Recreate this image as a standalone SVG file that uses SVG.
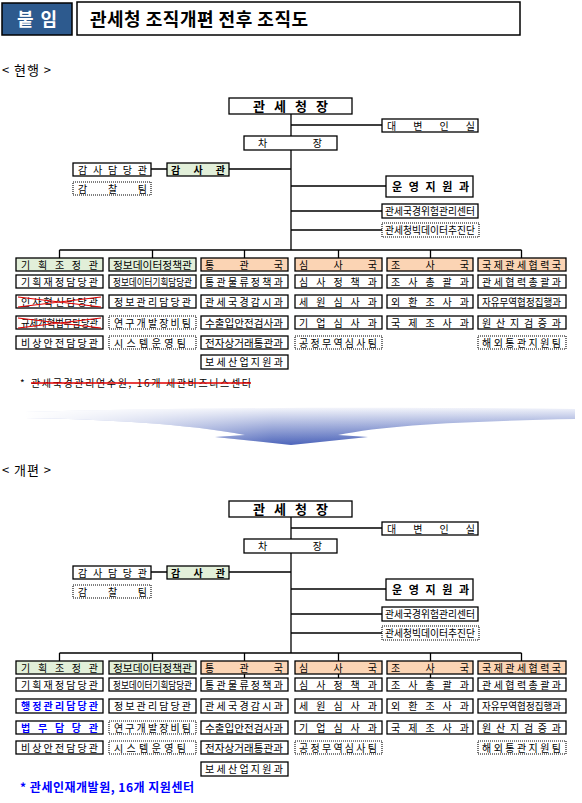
<svg xmlns="http://www.w3.org/2000/svg" width="582" height="803" viewBox="0 0 582 803">
<style>
.b{fill:#fff;stroke:#000;stroke-width:1.3}
.d{fill:#fff;stroke:#000;stroke-width:1.1;stroke-dasharray:1 1}
.g{fill:#e2efd9}
.o{fill:#fbd4b4}
text{font-family:"Noto Sans CJK KR","Noto Sans",sans-serif;fill:#000}
.t{font-size:10px}
.tb{font-size:10px;font-weight:bold}
.bl{fill:#0000ff;font-weight:bold}
.ln{stroke:#000;stroke-width:1.3;fill:none}
.x{stroke:#e00000;stroke-width:1.2;fill:none}
</style>
<defs>
<linearGradient id="av" x1="0" y1="0" x2="0" y2="1">
<stop offset="0" stop-color="#f2f4fb"/>
<stop offset="1" stop-color="#3b55b3"/>
</linearGradient>
<linearGradient id="ah" x1="0" y1="0" x2="1" y2="0">
<stop offset="0" stop-color="#fff" stop-opacity="1"/>
<stop offset="0.45" stop-color="#fff" stop-opacity="0.1"/>
<stop offset="1" stop-color="#fff" stop-opacity="0"/>
</linearGradient>
</defs>
<rect width="582" height="803" fill="#fff"/>

<g id="header">
<rect x="2" y="3" width="70" height="32" fill="#2d5a8e" stroke="#000" stroke-width="1.5"/>
<text x="17" y="26" font-size="18" font-weight="bold" textLength="40" lengthAdjust="spacing" style="fill:#fff">붙 임</text>
<rect x="77" y="2" width="443" height="33" fill="#fff" stroke="#000" stroke-width="1.5"/>
<text x="90" y="26" font-size="18" font-weight="bold" textLength="218" lengthAdjust="spacing">관세청 조직개편 전후 조직도</text>
</g>

<text id="label-before" x="2" y="75" font-size="13" textLength="49" lengthAdjust="spacing">&lt; 현행 &gt;</text>

<g id="connectors-before">
<path class="ln" d="M291 114V136M291 150V250M291 125H382M151 169H167M229 169H291M291 186H386M291 211H382M291 230H382M59.5 250H521.5M59.5 250V258M152.5 250V258M244.5 250V258M338.5 250V258M430.5 250V258M521.5 250V258"/>
</g>

<g id="n-commissioner-1"><rect class="b" x="229" y="98" width="123" height="16"/><text x="253" y="111" font-size="13" font-weight="bold" textLength="75" lengthAdjust="spacing">관세청장</text></g>
<g id="n-spokes-1"><rect class="b" x="382" y="119" width="96" height="13"/><text class="t" x="387" y="129.5" textLength="88" lengthAdjust="spacing">대변인실</text></g>
<g id="n-deputy-1"><rect class="b" x="244" y="136" width="93" height="14"/><text class="t" x="258" y="147" textLength="64" lengthAdjust="spacing">차장</text></g>
<g id="n-auditofficer-1"><rect class="b" x="73" y="163" width="78" height="13"/><text class="t" x="78" y="173.5" textLength="69" lengthAdjust="spacing">감사담당관</text></g>
<g id="n-audit-1"><rect class="b g" x="167" y="163" width="62" height="13"/><text class="tb" x="171" y="173.5" textLength="54" lengthAdjust="spacing">감사관</text></g>
<g id="n-inspect-1"><rect class="d" x="73" y="182" width="78" height="13"/><text class="t" x="78" y="192.5" textLength="69" lengthAdjust="spacing">감찰팀</text></g>
<g id="n-ops-1"><rect class="b" x="386" y="176" width="87" height="21"/><text x="392" y="190.5" font-size="11" font-weight="bold" textLength="77" lengthAdjust="spacing">운영지원과</text></g>
<g id="n-risk-1"><rect class="b" x="382" y="204" width="96" height="14"/><text class="t" x="385" y="214.5" textLength="90" lengthAdjust="spacingAndGlyphs">관세국경위험관리센터</text></g>
<g id="n-bigdata-1"><rect class="d" x="382" y="223" width="97" height="14"/><text class="t" x="385" y="233.5" textLength="90" lengthAdjust="spacingAndGlyphs">관세청빅데이터추진단</text></g>

<!-- before: col1 -->
<g id="b-c1-1"><rect class="b g" x="16" y="258" width="87" height="13"/><text class="t" x="21" y="268.5" textLength="77" lengthAdjust="spacing">기획조정관</text></g>
<g id="b-c1-2"><rect class="b" x="16" y="275" width="87" height="13"/><text class="t" x="21" y="285.5" textLength="77" lengthAdjust="spacing">기획재정담당관</text></g>
<g id="b-c1-3"><rect class="b" x="16" y="295" width="87" height="13"/><text class="t" x="21" y="305.5" textLength="77" lengthAdjust="spacing">인사혁신담당관</text><path class="x" d="M18 297L101 307M18 307L101 297"/></g>
<g id="b-c1-4"><rect class="b" x="16" y="316" width="87" height="13"/><text class="t" x="21" y="326.5" textLength="77" lengthAdjust="spacingAndGlyphs">규제개혁법무담당관</text><path class="x" d="M18 318L101 328M18 328L101 318"/></g>
<g id="b-c1-5"><rect class="b" x="16" y="336" width="87" height="13"/><text class="t" x="21" y="346.5" textLength="77" lengthAdjust="spacing">비상안전담당관</text></g>
<!-- col2 -->
<g id="b-c2-1"><rect class="b g" x="109" y="258" width="87" height="13"/><text class="t" x="113" y="268.5" textLength="79" lengthAdjust="spacingAndGlyphs">정보데이터정책관</text></g>
<g id="b-c2-2"><rect class="b" x="109" y="275" width="87" height="13"/><text class="t" x="113" y="285.5" textLength="79" lengthAdjust="spacingAndGlyphs">정보데이터기획담당관</text></g>
<g id="b-c2-3"><rect class="b" x="109" y="295" width="87" height="13"/><text class="t" x="114" y="305.5" textLength="77" lengthAdjust="spacing">정보관리담당관</text></g>
<g id="b-c2-4"><rect class="d" x="109" y="316" width="87" height="13"/><text class="t" x="114" y="326.5" textLength="77" lengthAdjust="spacing">연구개발장비팀</text></g>
<g id="b-c2-5"><rect class="d" x="109" y="336" width="87" height="13"/><text class="t" x="114" y="346.5" textLength="72" lengthAdjust="spacing">시스템운영팀</text></g>
<!-- col3 -->
<g id="b-c3-1"><rect class="b o" x="201" y="258" width="87" height="13"/><text class="t" x="205" y="268.5" textLength="78" lengthAdjust="spacing">통관국</text></g>
<g id="b-c3-2"><rect class="b" x="201" y="275" width="87" height="13"/><text class="t" x="205" y="285.5" textLength="78" lengthAdjust="spacing">통관물류정책과</text></g>
<g id="b-c3-3"><rect class="b" x="201" y="295" width="87" height="13"/><text class="t" x="205" y="305.5" textLength="78" lengthAdjust="spacing">관세국경감시과</text></g>
<g id="b-c3-4"><rect class="b" x="201" y="316" width="87" height="13"/><text class="t" x="205" y="326.5" textLength="78" lengthAdjust="spacingAndGlyphs">수출입안전검사과</text></g>
<g id="b-c3-5"><rect class="b" x="201" y="336" width="87" height="13"/><text class="t" x="205" y="346.5" textLength="78" lengthAdjust="spacingAndGlyphs">전자상거래통관과</text></g>
<g id="b-c3-6"><rect class="b" x="201" y="355" width="87" height="14"/><text class="t" x="205" y="366" textLength="78" lengthAdjust="spacing">보세산업지원과</text></g>
<!-- col4 -->
<g id="b-c4-1"><rect class="b o" x="295" y="258" width="87" height="13"/><text class="t" x="299" y="268.5" textLength="78" lengthAdjust="spacing">심사국</text></g>
<g id="b-c4-2"><rect class="b" x="295" y="275" width="87" height="13"/><text class="t" x="299" y="285.5" textLength="78" lengthAdjust="spacing">심사정책과</text></g>
<g id="b-c4-3"><rect class="b" x="295" y="295" width="87" height="13"/><text class="t" x="299" y="305.5" textLength="78" lengthAdjust="spacing">세원심사과</text></g>
<g id="b-c4-4"><rect class="b" x="295" y="316" width="87" height="13"/><text class="t" x="299" y="326.5" textLength="78" lengthAdjust="spacing">기업심사과</text></g>
<g id="b-c4-5"><rect class="d" x="295" y="336" width="87" height="13"/><text class="t" x="299" y="346.5" textLength="78" lengthAdjust="spacing">공정무역심사팀</text></g>
<!-- col5 -->
<g id="b-c5-1"><rect class="b o" x="387" y="258" width="86" height="13"/><text class="t" x="391" y="268.5" textLength="78" lengthAdjust="spacing">조사국</text></g>
<g id="b-c5-2"><rect class="b" x="387" y="275" width="86" height="13"/><text class="t" x="391" y="285.5" textLength="78" lengthAdjust="spacing">조사총괄과</text></g>
<g id="b-c5-3"><rect class="b" x="387" y="295" width="86" height="13"/><text class="t" x="391" y="305.5" textLength="78" lengthAdjust="spacing">외환조사과</text></g>
<g id="b-c5-4"><rect class="b" x="387" y="316" width="86" height="13"/><text class="t" x="391" y="326.5" textLength="78" lengthAdjust="spacing">국제조사과</text></g>
<!-- col6 -->
<g id="b-c6-1"><rect class="b o" x="478" y="258" width="88" height="13"/><text class="t" x="482" y="268.5" textLength="79" lengthAdjust="spacing">국제관세협력국</text></g>
<g id="b-c6-2"><rect class="b" x="478" y="275" width="88" height="13"/><text class="t" x="482" y="285.5" textLength="79" lengthAdjust="spacing">관세협력총괄과</text></g>
<g id="b-c6-3"><rect class="b" x="478" y="295" width="88" height="13"/><text class="t" x="482" y="305.5" textLength="79" lengthAdjust="spacingAndGlyphs">자유무역협정집행과</text></g>
<g id="b-c6-4"><rect class="b" x="478" y="316" width="88" height="13"/><text class="t" x="482" y="326.5" textLength="79" lengthAdjust="spacing">원산지검증과</text></g>
<g id="b-c6-5"><rect class="d" x="478" y="336" width="88" height="13"/><text class="t" x="482" y="346.5" textLength="79" lengthAdjust="spacing">해외통관지원팀</text></g>

<g id="note-before">
<text class="t" x="20" y="387">*</text>
<text class="t" x="31" y="387" textLength="220" lengthAdjust="spacing">관세국경관리연수원,   16개 세관비즈니스센터</text>
<line x1="31" y1="383" x2="251" y2="383" stroke="#e00000" stroke-width="1.3"/>
</g>

<g id="arrow">
<path d="M25 412C200 407 400 407 575 409L575 419C480 421 390 424 338 435L368 437L291 445L215 437L245 435C190 424 100 419 25 418Z" fill="url(#av)"/>
<path d="M25 412C200 407 400 407 575 409L575 419C480 421 390 424 338 435L368 437L291 445L215 437L245 435C190 424 100 419 25 418Z" fill="url(#ah)"/>
</g>

<text id="label-after" x="2" y="475" font-size="13" textLength="49" lengthAdjust="spacing">&lt; 개편 &gt;</text>

<g id="connectors-after">
<path class="ln" d="M291 517V539M291 553V653M291 528H382M151 572H167M229 572H291M291 589H386M291 614H382M291 633H382M59.5 653H521.5M59.5 653V661M152.5 653V661M244.5 653V661M338.5 653V661M430.5 653V661M521.5 653V661M244.5 674V678M338.5 674V678M430.5 674V678"/>
</g>

<g id="n-commissioner-2"><rect class="b" x="229" y="501" width="123" height="16"/><text x="253" y="514" font-size="13" font-weight="bold" textLength="75" lengthAdjust="spacing">관세청장</text></g>
<g id="n-spokes-2"><rect class="b" x="382" y="522" width="96" height="13"/><text class="t" x="387" y="532.5" textLength="88" lengthAdjust="spacing">대변인실</text></g>
<g id="n-deputy-2"><rect class="b" x="244" y="539" width="93" height="14"/><text class="t" x="258" y="550" textLength="64" lengthAdjust="spacing">차장</text></g>
<g id="n-auditofficer-2"><rect class="b" x="73" y="566" width="78" height="13"/><text class="t" x="78" y="576.5" textLength="69" lengthAdjust="spacing">감사담당관</text></g>
<g id="n-audit-2"><rect class="b g" x="167" y="566" width="62" height="13"/><text class="tb" x="171" y="576.5" textLength="54" lengthAdjust="spacing">감사관</text></g>
<g id="n-inspect-2"><rect class="d" x="73" y="585" width="78" height="13"/><text class="t" x="78" y="595.5" textLength="69" lengthAdjust="spacing">감찰팀</text></g>
<g id="n-ops-2"><rect class="b" x="386" y="579" width="87" height="21"/><text x="392" y="593.5" font-size="11" font-weight="bold" textLength="77" lengthAdjust="spacing">운영지원과</text></g>
<g id="n-risk-2"><rect class="b" x="382" y="607" width="96" height="14"/><text class="t" x="385" y="617.5" textLength="90" lengthAdjust="spacingAndGlyphs">관세국경위험관리센터</text></g>
<g id="n-bigdata-2"><rect class="d" x="382" y="626" width="97" height="14"/><text class="t" x="385" y="636.5" textLength="90" lengthAdjust="spacingAndGlyphs">관세청빅데이터추진단</text></g>

<!-- after: col1 -->
<g id="a-c1-1"><rect class="b g" x="16" y="661" width="87" height="13"/><text class="t" x="21" y="671.5" textLength="77" lengthAdjust="spacing">기획조정관</text></g>
<g id="a-c1-2"><rect class="b" x="16" y="678" width="87" height="13"/><text class="t" x="21" y="688.5" textLength="77" lengthAdjust="spacing">기획재정담당관</text></g>
<g id="a-c1-3"><rect class="b" x="16" y="699" width="87" height="14"/><text class="t bl" x="21" y="710" textLength="77" lengthAdjust="spacing">행정관리담당관</text></g>
<g id="a-c1-4"><rect class="b" x="16" y="721" width="87" height="13"/><text class="t bl" x="21" y="731.5" textLength="77" lengthAdjust="spacing">법무담당관</text></g>
<g id="a-c1-5"><rect class="b" x="16" y="741" width="87" height="13"/><text class="t" x="21" y="751.5" textLength="77" lengthAdjust="spacing">비상안전담당관</text></g>
<!-- col2 -->
<g id="a-c2-1"><rect class="b g" x="109" y="661" width="87" height="13"/><text class="t" x="113" y="671.5" textLength="79" lengthAdjust="spacingAndGlyphs">정보데이터정책관</text></g>
<g id="a-c2-2"><rect class="b" x="109" y="678" width="87" height="13"/><text class="t" x="113" y="688.5" textLength="79" lengthAdjust="spacingAndGlyphs">정보데이터기획담당관</text></g>
<g id="a-c2-3"><rect class="b" x="109" y="699" width="87" height="14"/><text class="t" x="114" y="710" textLength="77" lengthAdjust="spacing">정보관리담당관</text></g>
<g id="a-c2-4"><rect class="d" x="109" y="721" width="87" height="13"/><text class="t" x="114" y="731.5" textLength="77" lengthAdjust="spacing">연구개발장비팀</text></g>
<g id="a-c2-5"><rect class="d" x="109" y="741" width="87" height="13"/><text class="t" x="114" y="751.5" textLength="72" lengthAdjust="spacing">시스템운영팀</text></g>
<!-- col3 -->
<g id="a-c3-1"><rect class="b o" x="201" y="661" width="87" height="13"/><text class="t" x="205" y="671.5" textLength="78" lengthAdjust="spacing">통관국</text></g>
<g id="a-c3-2"><rect class="b" x="201" y="678" width="87" height="13"/><text class="t" x="205" y="688.5" textLength="78" lengthAdjust="spacing">통관물류정책과</text></g>
<g id="a-c3-3"><rect class="b" x="201" y="699" width="87" height="14"/><text class="t" x="205" y="710" textLength="78" lengthAdjust="spacing">관세국경감시과</text></g>
<g id="a-c3-4"><rect class="b" x="201" y="721" width="87" height="13"/><text class="t" x="205" y="731.5" textLength="78" lengthAdjust="spacingAndGlyphs">수출입안전검사과</text></g>
<g id="a-c3-5"><rect class="b" x="201" y="741" width="87" height="13"/><text class="t" x="205" y="751.5" textLength="78" lengthAdjust="spacingAndGlyphs">전자상거래통관과</text></g>
<g id="a-c3-6"><rect class="b" x="201" y="762" width="87" height="14"/><text class="t" x="205" y="773" textLength="78" lengthAdjust="spacing">보세산업지원과</text></g>
<!-- col4 -->
<g id="a-c4-1"><rect class="b o" x="295" y="661" width="87" height="13"/><text class="t" x="299" y="671.5" textLength="78" lengthAdjust="spacing">심사국</text></g>
<g id="a-c4-2"><rect class="b" x="295" y="678" width="87" height="13"/><text class="t" x="299" y="688.5" textLength="78" lengthAdjust="spacing">심사정책과</text></g>
<g id="a-c4-3"><rect class="b" x="295" y="699" width="87" height="14"/><text class="t" x="299" y="710" textLength="78" lengthAdjust="spacing">세원심사과</text></g>
<g id="a-c4-4"><rect class="b" x="295" y="721" width="87" height="13"/><text class="t" x="299" y="731.5" textLength="78" lengthAdjust="spacing">기업심사과</text></g>
<g id="a-c4-5"><rect class="d" x="295" y="741" width="87" height="13"/><text class="t" x="299" y="751.5" textLength="78" lengthAdjust="spacing">공정무역심사팀</text></g>
<!-- col5 -->
<g id="a-c5-1"><rect class="b o" x="387" y="661" width="86" height="13"/><text class="t" x="391" y="671.5" textLength="78" lengthAdjust="spacing">조사국</text></g>
<g id="a-c5-2"><rect class="b" x="387" y="678" width="86" height="13"/><text class="t" x="391" y="688.5" textLength="78" lengthAdjust="spacing">조사총괄과</text></g>
<g id="a-c5-3"><rect class="b" x="387" y="699" width="86" height="14"/><text class="t" x="391" y="710" textLength="78" lengthAdjust="spacing">외환조사과</text></g>
<g id="a-c5-4"><rect class="b" x="387" y="721" width="86" height="13"/><text class="t" x="391" y="731.5" textLength="78" lengthAdjust="spacing">국제조사과</text></g>
<!-- col6 -->
<g id="a-c6-1"><rect class="b o" x="478" y="661" width="88" height="13"/><text class="t" x="482" y="671.5" textLength="79" lengthAdjust="spacing">국제관세협력국</text></g>
<g id="a-c6-2"><rect class="b" x="478" y="678" width="88" height="13"/><text class="t" x="482" y="688.5" textLength="79" lengthAdjust="spacing">관세협력총괄과</text></g>
<g id="a-c6-3"><rect class="b" x="478" y="699" width="88" height="14"/><text class="t" x="482" y="710" textLength="79" lengthAdjust="spacingAndGlyphs">자유무역협정집행과</text></g>
<g id="a-c6-4"><rect class="b" x="478" y="721" width="88" height="13"/><text class="t" x="482" y="731.5" textLength="79" lengthAdjust="spacing">원산지검증과</text></g>
<g id="a-c6-5"><rect class="d" x="478" y="741" width="88" height="13"/><text class="t" x="482" y="751.5" textLength="79" lengthAdjust="spacing">해외통관지원팀</text></g>

<g id="note-after">
<text x="20" y="792" font-size="12" class="bl" textLength="174" lengthAdjust="spacing">* 관세인재개발원, 16개 지원센터</text>
</g>
</svg>
